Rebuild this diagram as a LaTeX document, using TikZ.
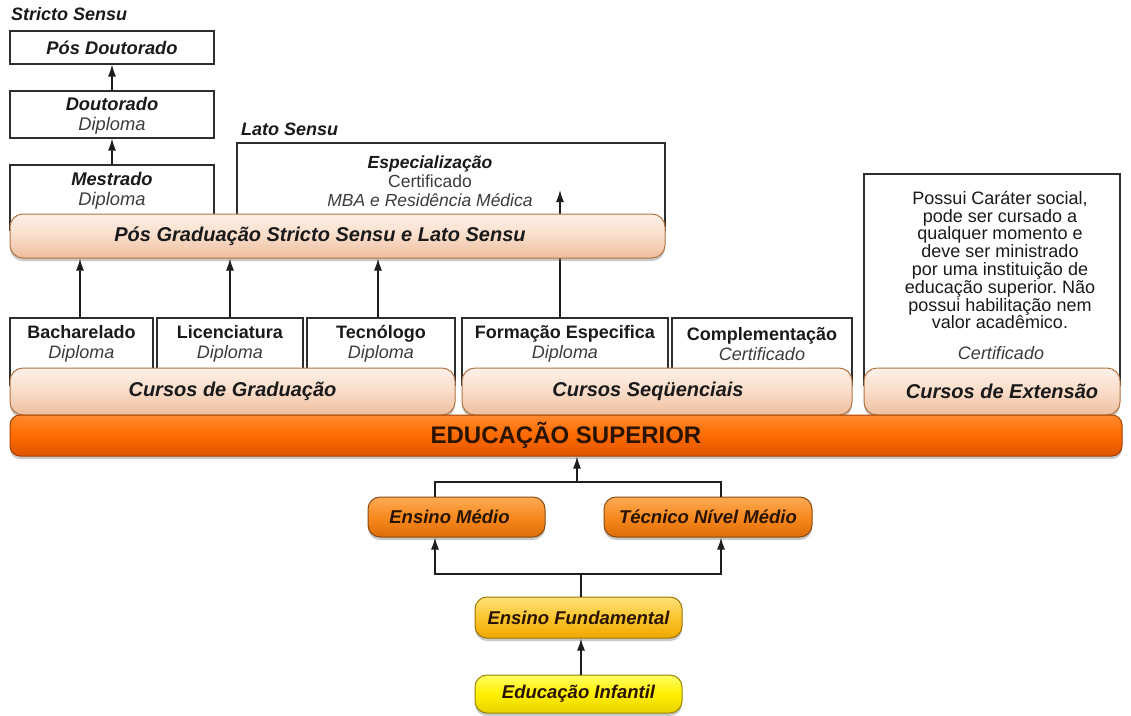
\documentclass[tikz,border=0pt]{standalone}
\usepackage{fontspec}
\setmainfont{Liberation Sans}
\usetikzlibrary{arrows.meta,shadows,calc}
\frenchspacing
\definecolor{boxline}{HTML}{2E2E2E}
\definecolor{arrowc}{HTML}{1E1E1E}
\definecolor{txt}{HTML}{1A1A1A}
\definecolor{subtxt}{HTML}{3C3C3C}
\definecolor{peachT}{HTML}{FDF1E9}
\definecolor{peachM}{HTML}{F9DCC8}
\definecolor{peachB}{HTML}{EDBE9E}
\definecolor{peachD}{HTML}{B07444}
\definecolor{eduT}{HTML}{FF8A2E}
\definecolor{eduM}{HTML}{FF6A00}
\definecolor{eduB}{HTML}{DD5500}
\definecolor{eduD}{HTML}{A84000}
\definecolor{medT}{HTML}{FBAA55}
\definecolor{medM}{HTML}{F78A1E}
\definecolor{medB}{HTML}{DE6C08}
\definecolor{medD}{HTML}{8A4A12}
\definecolor{funT}{HTML}{FDE27A}
\definecolor{funM}{HTML}{FAC52E}
\definecolor{funB}{HTML}{EFA900}
\definecolor{funD}{HTML}{9C7400}
\definecolor{infT}{HTML}{FFFF66}
\definecolor{infM}{HTML}{FFEF00}
\definecolor{infB}{HTML}{E9D200}
\definecolor{infD}{HTML}{958500}
\definecolor{darktxt}{HTML}{2A1400}
\tikzset{
  box/.style={draw=boxline, line width=1.1pt, fill=white, rectangle, inner sep=0pt},
  ttl/.style={font=\fontsize{18.3}{20}\selectfont\bfseries\itshape, text=txt, align=center, inner sep=0pt},
  lbl/.style={font=\fontsize{18}{20}\selectfont\bfseries\itshape, text=txt, inner sep=0pt, anchor=west},
  rowtxt/.style={font=\fontsize{18}{20}\selectfont, text=txt, align=center, inner sep=0pt},
  bar/.style={rectangle, rounded corners=13pt, line width=1pt, inner sep=0pt,
     drop shadow={shadow xshift=0pt, shadow yshift=-3pt, opacity=0.35, fill=black!60}},
  peachbar/.style={bar, draw=peachD, top color=peachT, bottom color=peachB, middle color=peachM,
     font=\fontsize{20}{22}\selectfont\bfseries\itshape, text=txt},
  edubar/.style={bar, rounded corners=10pt, draw=eduD, top color=eduT, bottom color=eduB, middle color=eduM,
     font=\fontsize{24}{26}\selectfont\bfseries, text=darktxt},
  medbox/.style={bar, rounded corners=12pt, draw=medD, top color=medT, bottom color=medB, middle color=medM,
     font=\fontsize{18.5}{20}\selectfont\bfseries\itshape, text=darktxt},
  funbox/.style={bar, rounded corners=12pt, draw=funD, top color=funT, bottom color=funB, middle color=funM,
     font=\fontsize{18.5}{20}\selectfont\bfseries\itshape, text=darktxt},
  infbox/.style={bar, rounded corners=12pt, draw=infD, top color=infT, bottom color=infB, middle color=infM,
     font=\fontsize{18.5}{20}\selectfont\bfseries\itshape, text=darktxt},
  arr/.style={-{Latex[length=12pt,width=8pt]}, line width=1.5pt, draw=arrowc},
  conn/.style={line width=1.5pt, draw=arrowc},
}
\begin{document}
\begin{tikzpicture}[x=1pt,y=-1pt]
\useasboundingbox (0,0) rectangle (1131,715);
\fill[white] (0,0) rectangle (1131,715);

% Stricto sensu column
\node[lbl] (lblss) at (11,14) {Stricto Sensu};
\node[box, minimum width=204pt, minimum height=33pt] (pdout) at (112,47.5) {};
\node[ttl] (pdoutT) at (112,47.5) {Pós Doutorado};
\node[box, minimum width=204pt, minimum height=47pt] (dout) at (112,114.5) {};
\node[ttl] (doutT) at (112,116) {Doutorado\\{\mdseries\itshape\color{subtxt}Diploma}};
\node[box, minimum width=204pt, minimum height=65pt] (mest) at (112,197.5) {};
\node[ttl] (mestT) at (112,191) {Mestrado\\{\mdseries\itshape\color{subtxt}Diploma}};
\draw[arr] (dout.north) -- (pdout.south);
\draw[arr] (mest.north) -- (dout.south);

% Lato sensu
\node[lbl] (lblls) at (241,129) {Lato Sensu};
\node[box, minimum width=428pt, minimum height=87pt] (espec) at (451,186.5) {};
\node[ttl, font=\fontsize{17.5}{19}\selectfont\bfseries\itshape] (especT) at (430,181) {Especialização\\{\mdseries\upshape\color{subtxt}Certificado}\\{\mdseries\itshape\color{subtxt}MBA e Residência Médica}};

% row boxes
\node[box, minimum width=143pt, minimum height=67pt] (bach) at (81.5,351.5) {};
\node[rowtxt] (bachT) at (81.5,344) {\textbf{Bacharelado}\\{\itshape\color{subtxt}Diploma}};
\node[box, minimum width=146pt, minimum height=67pt] (lic) at (230,351.5) {};
\node[rowtxt] (licT) at (230,344) {\textbf{Licenciatura}\\{\itshape\color{subtxt}Diploma}};
\node[box, minimum width=148pt, minimum height=67pt] (tec) at (381,351.5) {};
\node[rowtxt] (tecT) at (381,344) {\textbf{Tecnólogo}\\{\itshape\color{subtxt}Diploma}};
\node[box, minimum width=206pt, minimum height=67pt] (form) at (565,351.5) {};
\node[rowtxt] (formT) at (565,344) {\textbf{Formação Especifica}\\{\itshape\color{subtxt}Diploma}};
\node[box, minimum width=180pt, minimum height=67pt] (comp) at (762,351.5) {};
\node[rowtxt] (compT) at (762,344) {\textbf{Complementação}\\{\itshape\color{subtxt}Certificado}};
\node[box, minimum width=256pt, minimum height=211pt] (ext) at (992,279.5) {};
\node[font=\fontsize{18}{17.8}\selectfont, text=txt, align=center, inner sep=0pt] (extT) at (1000,260)
  {Possui Caráter social,\\pode ser cursado a\\qualquer momento e\\deve ser ministrado\\por uma instituição de\\educação superior. Não\\possui habilitação nem\\valor acadêmico.};
\node[font=\fontsize{18}{18}\selectfont\itshape, text=subtxt, inner sep=0pt] (extC) at (1001,353) {Certificado};

% arrow from Formação to Especialização (behind the bar)
\coordinate (eend) at (560,190);
\draw[arr] (eend |- form.north) -- (eend);

% Pós graduação bar
\node[peachbar, minimum width=655pt, minimum height=44pt] (posg) at (337.5,236) {\hspace*{-35pt}Pós Graduação Stricto Sensu e Lato Sensu};
\draw[arr] (80,0 |- bach.north) -- (80,0 |- posg.south);
\draw[arr] (lic.north) -- (lic.north |- posg.south);
\draw[arr] (378,0 |- tec.north) -- (378,0 |- posg.south);

% Cursos bars
\node[peachbar, minimum width=445pt, minimum height=47pt] (grad) at (232.5,391.5) {\raisebox{-2pt}{Cursos de Graduação}};
\node[peachbar, minimum width=390pt, minimum height=47pt] (seq) at (657,391.5) {\hspace*{-18pt}\raisebox{-2pt}{Cursos Seqüenciais}};
\node[peachbar, minimum width=256pt, minimum height=47pt] (extb) at (992,391.5) {\hspace*{20pt}\raisebox{-2pt}{Cursos de Extensão}};

% Educação superior
\node[edubar, minimum width=1112pt, minimum height=41pt] (edu) at (566,435.5) {EDUCAÇÃO SUPERIOR};

% lower levels
\node[medbox, minimum width=177pt, minimum height=40pt] (medio) at (456.5,517) {\hspace*{-14pt}Ensino Médio};
\node[medbox, minimum width=208pt, minimum height=40pt] (tecn) at (708,517) {Técnico Nível Médio};
\node[funbox, minimum width=207pt, minimum height=41pt] (fund) at (578.5,617.5) {Ensino Fundamental};
\node[infbox, minimum width=207pt, minimum height=38pt] (inf) at (578.5,694) {Educação Infantil};

\coordinate (j1) at (577,482);
\coordinate (ja) at (435,482);
\coordinate (jb) at (721,482);
\draw[conn] (ja |- medio.north) -- (ja) -- (jb) -- (jb |- tecn.north);
\draw[arr] (j1) -- (j1 |- edu.south);

\coordinate (k1) at (581,574);
\coordinate (ka) at (435,574);
\coordinate (kb) at (721,574);
\draw[arr] (k1 |- fund.north) -- (k1) -| (ka |- medio.south);
\draw[arr] (k1) -| (kb |- tecn.south);
\draw[arr] (k1 |- inf.north) -- (k1 |- fund.south);
\end{tikzpicture}
\end{document}
